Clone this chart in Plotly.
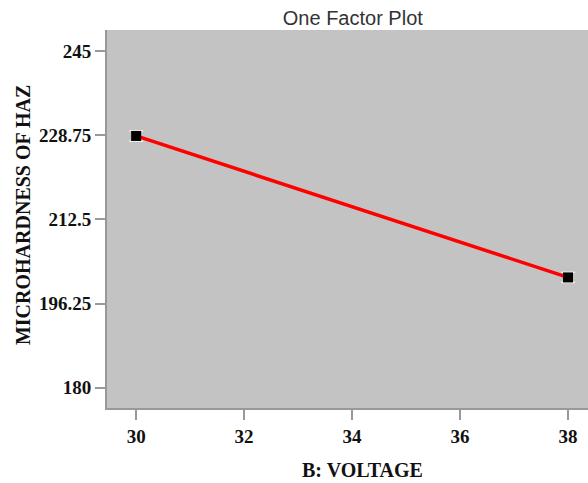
import plotly.graph_objects as go

voltage = [30, 38]
microhardness = [228.6, 201.3]
err = [1.0, 1.0]
y_ticks = [180, 196.25, 212.5, 228.75, 245]
y_tick_labels = ["180", "196.25", "212.5", "228.75", "245"]
x_ticks = [30, 32, 34, 36, 38]

fig = go.Figure()
fig.add_trace(go.Scatter(
    x=voltage, y=microhardness, mode="lines",
    line=dict(color="#ff0000", width=3.5), showlegend=False, hoverinfo="skip"))
fig.add_trace(go.Scatter(
    x=voltage, y=microhardness, mode="markers",
    marker=dict(symbol="square", size=10, color="black"),
    error_y=dict(type="data", array=err, color="#f0f0f0", thickness=1.5, width=7),
    showlegend=False))

serif = "Liberation Serif"
fig.update_layout(
    width=588, height=483,
    margin=dict(l=107, r=0, t=30, b=75),
    paper_bgcolor="white", plot_bgcolor="#c3c3c3",
    title=dict(text="One Factor Plot", x=0.6, xanchor="center", y=0.962, yanchor="middle",
               font=dict(family="Liberation Sans", size=20, color="#333")),
    xaxis=dict(range=[29.46, 38.37], tickvals=x_ticks, ticktext=[str(v) for v in x_ticks],
               ticks="outside", ticklen=10, tickcolor="#999", tickwidth=2,
               showgrid=False, zeroline=False, showline=True, linecolor="#999", linewidth=2,
               tickfont=dict(family=serif, size=19, color="#111", weight="bold")),
    yaxis=dict(range=[176.1, 249.05], tickvals=y_ticks, ticktext=y_tick_labels,
               ticks="outside", ticklen=10, tickcolor="#999", tickwidth=2,
               showgrid=False, zeroline=False, showline=True, linecolor="#999", linewidth=2,
               tickfont=dict(family=serif, size=19, color="#111", weight="bold")),
    annotations=[
        dict(text="<b>B: VOLTAGE</b>", xref="paper", yref="paper", x=0.532, y=-0.165,
             xanchor="center", yanchor="middle", showarrow=False,
             font=dict(family=serif, size=20, color="#111")),
        dict(text="<b>MICROHARDNESS OF HAZ</b>", xref="paper", yref="paper", x=-0.175, y=0.51,
             xanchor="center", yanchor="middle", textangle=-90, showarrow=False,
             font=dict(family=serif, size=20, color="#111")),
    ],
)
fig.write_html("out.html")
